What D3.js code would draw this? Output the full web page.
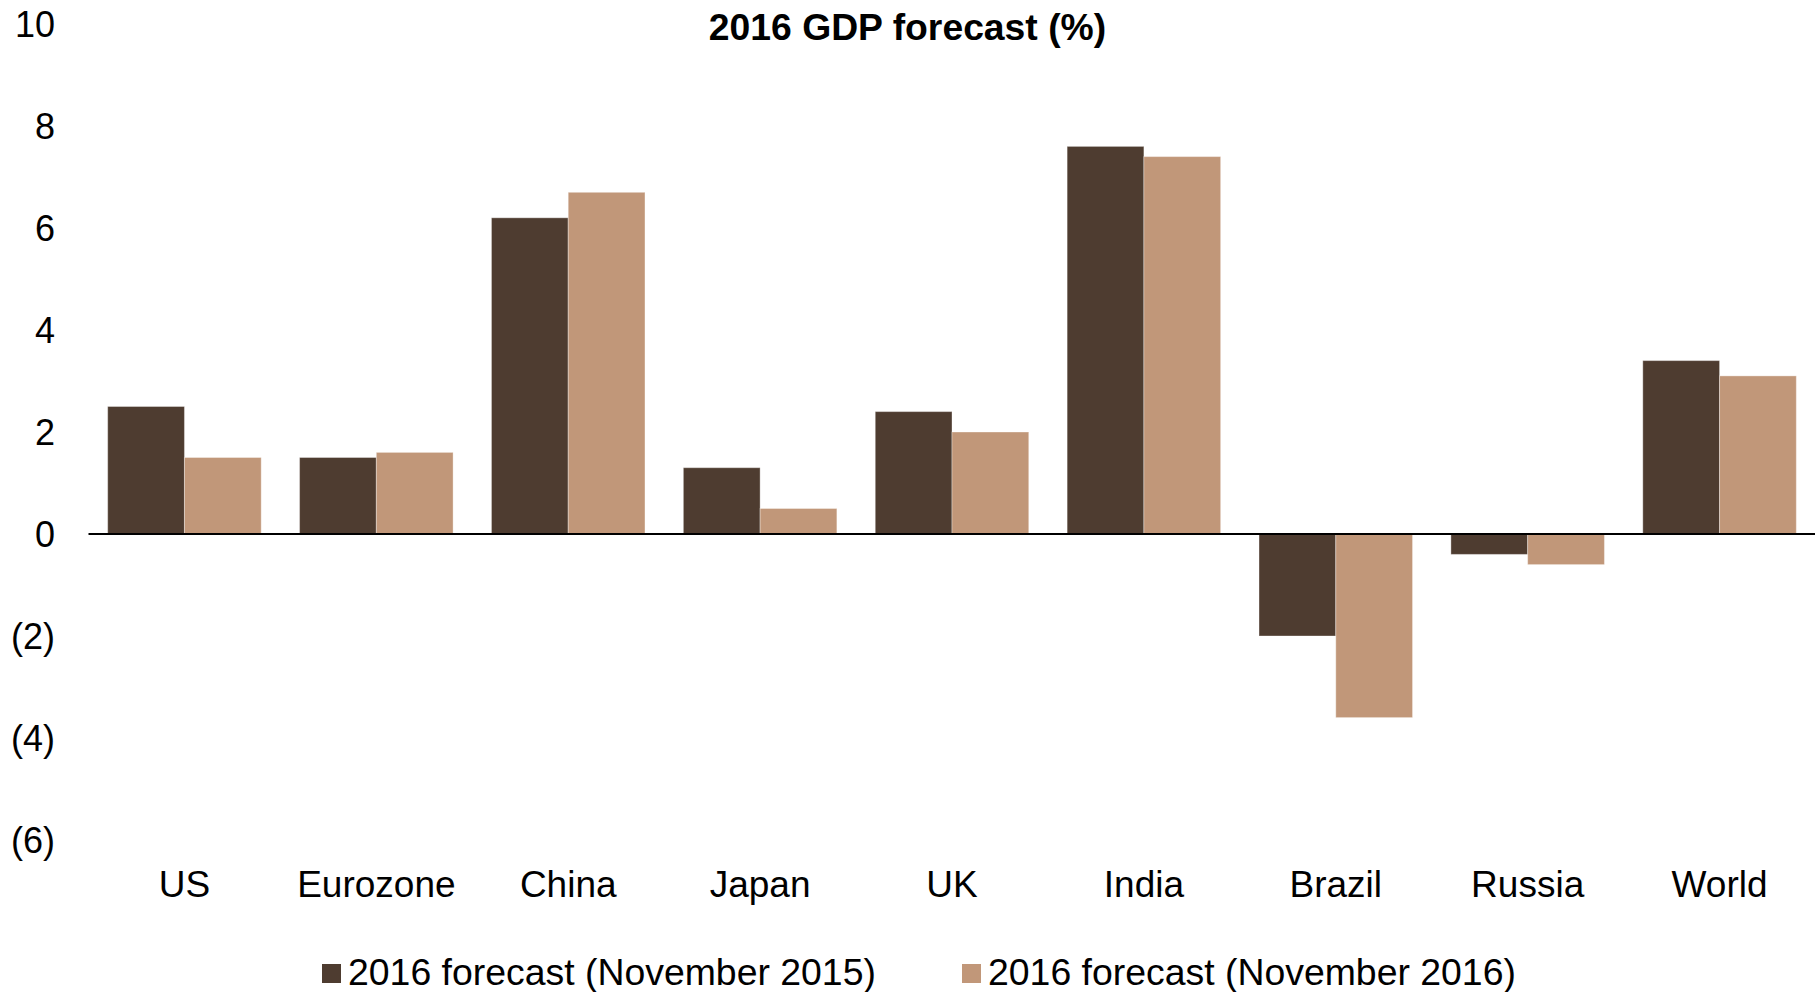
<!DOCTYPE html>
<html>
<head>
<meta charset="utf-8">
<script src="https://cdn.jsdelivr.net/npm/d3@7"></script>
<style>
  html, body { margin: 0; padding: 0; background: #ffffff; }
  svg { display: block; }
  text { font-family: "Liberation Sans", Arial, sans-serif; fill: #000; }
</style>
</head>
<body>
<svg id="chart" width="1815" height="992"></svg>
<script>
// 2016 GDP growth forecasts, as made in November 2015 and revised in November 2016
const categories = ["US", "Eurozone", "China", "Japan", "UK", "India", "Brazil", "Russia", "World"];
const seriesNames = ["2016 forecast (November 2015)", "2016 forecast (November 2016)"];
const forecastNov2015 = [2.5, 1.5, 6.2, 1.3, 2.4, 7.6, -2.0, -0.4, 3.4];
const forecastNov2016 = [1.5, 1.6, 6.7, 0.5, 2.0, 7.4, -3.6, -0.6, 3.1];
const yTicks = [-6, -4, -2, 0, 2, 4, 6, 8, 10];
const seriesColors = ["#4e3c30", "#c19779"];

const W = 1815, H = 992;
const svg = d3.select("#chart");

const plotLeft = 88.5, plotRight = 1815.5;

const x = d3.scaleBand()
  .domain(categories)
  .range([plotLeft, plotRight])
  .paddingInner(0.2)
  .paddingOuter(0.1);

const xSeries = d3.scaleBand()
  .domain(seriesNames)
  .range([0, x.bandwidth()])
  .padding(0);

const y = d3.scaleLinear()
  .domain([-6, 10])
  .range([840, 24]);

const color = d3.scaleOrdinal().domain(seriesNames).range(seriesColors);

// Title
svg.append("text")
  .attr("x", W / 2)
  .attr("y", 40)
  .attr("text-anchor", "middle")
  .style("font-size", "37.3px")
  .style("font-weight", "bold")
  .text("2016 GDP forecast (%)");

// Y axis labels (negatives shown in parentheses, no axis line)
const fmt = v => v < 0 ? `(${Math.abs(v)})` : `${v}`;
const yAxis = d3.axisLeft(y).tickValues(yTicks).tickFormat(fmt).tickSize(0).tickPadding(0);
const yG = svg.append("g").attr("transform", "translate(55,0)").call(yAxis);
yG.select(".domain").remove();
yG.selectAll("text")
  .style("font-size", "36px")
  .style("font-family", "'Liberation Sans', Arial, sans-serif")
  .attr("fill", "#000")
  .attr("dy", "0.36em");

// Bars
const rows = categories.map((c, i) => ({
  category: c,
  values: [
    { series: seriesNames[0], value: forecastNov2015[i] },
    { series: seriesNames[1], value: forecastNov2016[i] }
  ]
}));

const groups = svg.append("g").selectAll("g")
  .data(rows)
  .join("g")
  .attr("transform", d => `translate(${x(d.category)},0)`);

groups.selectAll("rect")
  .data(d => d.values)
  .join("rect")
  .attr("x", d => xSeries(d.series))
  .attr("width", xSeries.bandwidth())
  .attr("y", d => y(Math.max(0, d.value)))
  .attr("height", d => Math.abs(y(d.value) - y(0)))
  .attr("fill", d => color(d.series))
  .attr("stroke", "rgba(255,255,255,0.35)")
  .attr("stroke-width", 1);

// Zero line
svg.append("line")
  .attr("x1", plotLeft)
  .attr("x2", W)
  .attr("y1", y(0))
  .attr("y2", y(0))
  .attr("stroke", "#000")
  .attr("stroke-width", 2);

// Category labels
const xAxis = d3.axisBottom(x).tickSize(0).tickPadding(0);
const xG = svg.append("g").attr("transform", "translate(0,884)").call(xAxis);
xG.select(".domain").remove();
xG.selectAll("text")
  .style("font-size", "37px")
  .style("font-family", "'Liberation Sans', Arial, sans-serif")
  .attr("fill", "#000")
  .attr("y", 0)
  .attr("dy", "0.36em");

// Legend
const legendItems = [
  { name: seriesNames[0], sx: 322 },
  { name: seriesNames[1], sx: 962 }
];
const lg = svg.append("g").selectAll("g")
  .data(legendItems)
  .join("g");
lg.append("rect")
  .attr("x", d => d.sx)
  .attr("y", 964)
  .attr("width", 19)
  .attr("height", 19)
  .attr("fill", d => color(d.name));
lg.append("text")
  .attr("x", d => d.sx + 26)
  .attr("y", 985)
  .style("font-size", "37.4px")
  .text(d => d.name);
</script>
</body>
</html>
